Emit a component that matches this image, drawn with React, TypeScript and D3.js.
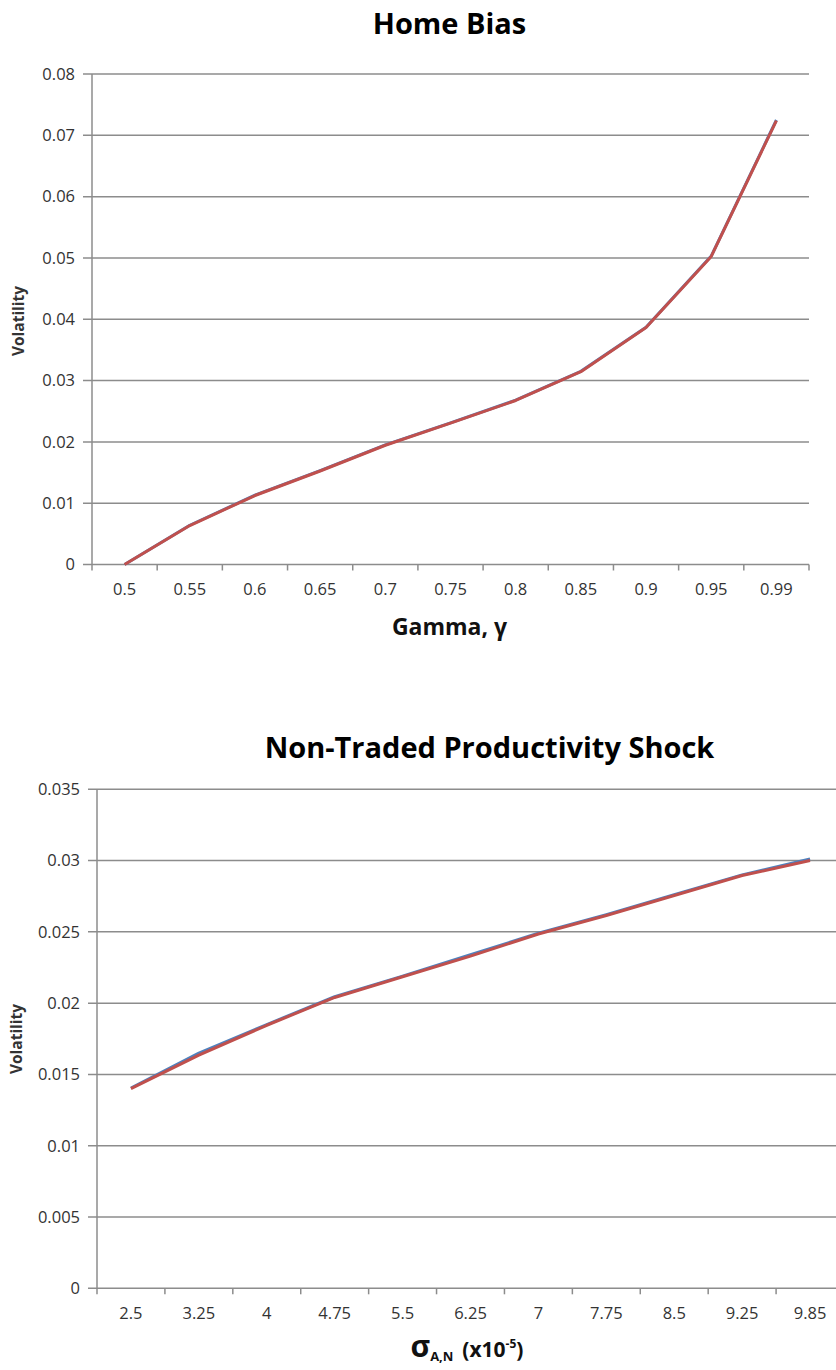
import React from "react";
import * as d3 from "d3";

// Home Bias panel
const gammaLabels = ["0.5", "0.55", "0.6", "0.65", "0.7", "0.75", "0.8", "0.85", "0.9", "0.95", "0.99"];
const gammaVolBlue = [0.0, 0.0064, 0.0113, 0.0153, 0.0195, 0.0231, 0.0268, 0.0315, 0.0387, 0.0503, 0.0725];
const gammaVolRed = [0.0, 0.00635, 0.01125, 0.01525, 0.01945, 0.02305, 0.02675, 0.03145, 0.03865, 0.05025, 0.0724];
const gammaTicks = [0, 0.01, 0.02, 0.03, 0.04, 0.05, 0.06, 0.07, 0.08];

// Non-traded productivity shock panel
const sigmaLabels = ["2.5", "3.25", "4", "4.75", "5.5", "6.25", "7", "7.75", "8.5", "9.25", "9.85"];
const sigmaVolBlue = [0.01405, 0.0165, 0.0185, 0.02045, 0.0219, 0.0234, 0.0249, 0.0262, 0.0276, 0.029, 0.03012];
const sigmaVolRed = [0.014, 0.01635, 0.01845, 0.0204, 0.02185, 0.0233, 0.02485, 0.02615, 0.02755, 0.02895, 0.03];
const sigmaTicks = [0, 0.005, 0.01, 0.015, 0.02, 0.025, 0.03, 0.035];

const FONT = "'Open Sans', 'DejaVu Sans', sans-serif";
const GRID = "#8c8c8c";
const TEXT = "#333333";
const BLUE = "#4F81BD";
const RED = "#C0504D";

type PanelProps = {
  labels: string[];
  blue: number[];
  red: number[];
  ticks: number[];
  yMax: number;
  left: number;
  right: number;
  top: number;
  bottom: number;
  tickFmt: (v: number) => string;
};

function Panel({ labels, blue, red, ticks, yMax, left, right, top, bottom, tickFmt }: PanelProps) {
  const x = d3.scaleBand<string>().domain(labels).range([left, right]).padding(0);
  const y = d3.scaleLinear().domain([0, yMax]).range([bottom, top]);
  const cx = (l: string) => (x(l) as number) + x.bandwidth() / 2;
  const line = d3
    .line<number>()
    .x((_, i) => cx(labels[i]))
    .y((v) => y(v));
  const edges = [...labels.map((l) => x(l) as number), right];
  return (
    <g>
      {ticks.map((t) => (
        <g key={t}>
          <line x1={left - 9} x2={right} y1={y(t)} y2={y(t)} stroke={GRID} strokeWidth={1.5} />
          <text
            x={left - 17}
            y={y(t)}
            dy="0.35em"
            textAnchor="end"
            fontFamily={FONT}
            fontSize={16.5}
            fill={TEXT}
          >
            {tickFmt(t)}
          </text>
        </g>
      ))}
      <line x1={left} x2={left} y1={top} y2={bottom} stroke={GRID} strokeWidth={1.5} />
      {edges.map((e, i) => (
        <line key={i} x1={e} x2={e} y1={bottom} y2={bottom + 6} stroke={GRID} strokeWidth={1.5} />
      ))}
      {labels.map((l) => (
        <text
          key={l}
          x={cx(l)}
          y={bottom + 25}
          dy="0.35em"
          textAnchor="middle"
          fontFamily={FONT}
          fontSize={16.5}
          fill={TEXT}
        >
          {l}
        </text>
      ))}
      <path d={line(blue) ?? ""} fill="none" stroke={BLUE} strokeWidth={3} strokeLinejoin="round" />
      <path d={line(red) ?? ""} fill="none" stroke={RED} strokeWidth={3} strokeLinejoin="round" />
    </g>
  );
}

export default function App() {
  return (
    <svg
      width={836}
      height={1370}
      style={{ position: "absolute", left: 0, top: 0, background: "#fff" }}
    >
      <rect width={836} height={1370} fill="#fff" />
      <text x={449.5} y={34} textAnchor="middle" fontFamily={FONT} fontWeight="bold" fontSize={29} fill="#000">
        Home Bias
      </text>
      <text
        transform="translate(24,321) rotate(-90)"
        textAnchor="middle"
        fontFamily={FONT}
        fontWeight="bold"
        fontSize={15.5}
        fill={TEXT}
      >
        Volatility
      </text>
      <Panel
        labels={gammaLabels}
        blue={gammaVolBlue}
        red={gammaVolRed}
        ticks={gammaTicks}
        yMax={0.08}
        left={92}
        right={809}
        top={74}
        bottom={564.5}
        tickFmt={(v) => (v === 0 ? "0" : d3.format(".2f")(v))}
      />
      <text x={449.5} y={635} textAnchor="middle" fontFamily={FONT} fontWeight="bold" fontSize={23} fill="#111">
        Gamma, γ
      </text>

      <text x={489.5} y={758} textAnchor="middle" fontFamily={FONT} fontWeight="bold" fontSize={29} fill="#000">
        Non-Traded Productivity Shock
      </text>
      <text
        transform="translate(22,1039) rotate(-90)"
        textAnchor="middle"
        fontFamily={FONT}
        fontWeight="bold"
        fontSize={15.5}
        fill={TEXT}
      >
        Volatility
      </text>
      <Panel
        labels={sigmaLabels}
        blue={sigmaVolBlue}
        red={sigmaVolRed}
        ticks={sigmaTicks}
        yMax={0.035}
        left={97}
        right={844}
        top={789.3}
        bottom={1288.3}
        tickFmt={(v) => (v === 0 ? "0" : d3.format("")(+v.toFixed(3)))}
      />
      <text x={467} y={1357} textAnchor="middle" fontFamily={FONT} fontWeight="bold" fill="#111">
        <tspan fontSize={30}>σ</tspan>
        <tspan fontSize={13} dy={4}>A,N</tspan>
        <tspan fontSize={21} dy={-4}>{"\u2009 (x10"}</tspan>
        <tspan fontSize={12} dy={-9}>-5</tspan>
        <tspan fontSize={21} dy={9}>)</tspan>
      </text>
    </svg>
  );
}
